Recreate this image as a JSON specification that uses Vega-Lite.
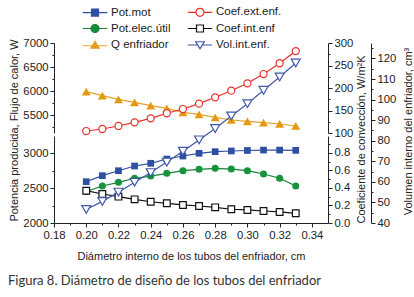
{
  "$schema": "https://vega.github.io/schema/vega-lite/v6.json",
  "width": 274,
  "height": 180,
  "autosize": "none",
  "padding": {"left": 54, "top": 43, "right": 86, "bottom": 74},
  "background": "white",
  "config": {
    "view": {"stroke": null},
    "font": "Liberation Sans",
    "axis": {"grid": false, "domainColor": "#222", "tickColor": "#222", "labelColor": "#222", "titleColor": "#222", "labelFont": "Liberation Sans", "titleFont": "Liberation Sans", "labelFontSize": 11.3, "titleFontSize": 11, "titleFontWeight": "normal", "labelOverlap": false, "labelFlush": false, "labelPadding": 2, "domainWidth": 1, "tickWidth": 1}
  },
  "title": {"text": "Figura 8. Diámetro de diseño de los tubos del enfriador", "orient": "bottom", "anchor": "start", "font": "Lato", "fontSize": 13, "fontWeight": "normal", "color": "#333", "offset": 14},
  "data": {"values": [
    {"s": "Pot.mot", "d": 0.20, "v": 2590}, {"s": "Pot.mot", "d": 0.21, "v": 2676}, {"s": "Pot.mot", "d": 0.22, "v": 2747}, {"s": "Pot.mot", "d": 0.23, "v": 2814}, {"s": "Pot.mot", "d": 0.24, "v": 2853}, {"s": "Pot.mot", "d": 0.25, "v": 2914}, {"s": "Pot.mot", "d": 0.26, "v": 2957}, {"s": "Pot.mot", "d": 0.27, "v": 2996}, {"s": "Pot.mot", "d": 0.28, "v": 3019}, {"s": "Pot.mot", "d": 0.29, "v": 3029}, {"s": "Pot.mot", "d": 0.30, "v": 3036}, {"s": "Pot.mot", "d": 0.31, "v": 3042}, {"s": "Pot.mot", "d": 0.32, "v": 3042}, {"s": "Pot.mot", "d": 0.33, "v": 3038},
    {"s": "Pot.elec.útil", "d": 0.20, "v": 2450}, {"s": "Pot.elec.útil", "d": 0.21, "v": 2529}, {"s": "Pot.elec.útil", "d": 0.22, "v": 2581}, {"s": "Pot.elec.útil", "d": 0.23, "v": 2639}, {"s": "Pot.elec.útil", "d": 0.24, "v": 2671}, {"s": "Pot.elec.útil", "d": 0.25, "v": 2710}, {"s": "Pot.elec.útil", "d": 0.26, "v": 2747}, {"s": "Pot.elec.útil", "d": 0.27, "v": 2767}, {"s": "Pot.elec.útil", "d": 0.28, "v": 2781}, {"s": "Pot.elec.útil", "d": 0.29, "v": 2771}, {"s": "Pot.elec.útil", "d": 0.30, "v": 2747}, {"s": "Pot.elec.útil", "d": 0.31, "v": 2700}, {"s": "Pot.elec.útil", "d": 0.32, "v": 2639}, {"s": "Pot.elec.útil", "d": 0.33, "v": 2529},
    {"s": "Q enfriador", "d": 0.20, "v": 5986}, {"s": "Q enfriador", "d": 0.21, "v": 5903}, {"s": "Q enfriador", "d": 0.22, "v": 5827}, {"s": "Q enfriador", "d": 0.23, "v": 5764}, {"s": "Q enfriador", "d": 0.24, "v": 5694}, {"s": "Q enfriador", "d": 0.25, "v": 5639}, {"s": "Q enfriador", "d": 0.26, "v": 5556}, {"s": "Q enfriador", "d": 0.27, "v": 5514}, {"s": "Q enfriador", "d": 0.28, "v": 5452}, {"s": "Q enfriador", "d": 0.29, "v": 5396}, {"s": "Q enfriador", "d": 0.30, "v": 5368}, {"s": "Q enfriador", "d": 0.31, "v": 5340}, {"s": "Q enfriador", "d": 0.32, "v": 5313}, {"s": "Q enfriador", "d": 0.33, "v": 5271},
    {"s": "Coef.ext.enf.", "d": 0.20, "v": 104.4}, {"s": "Coef.ext.enf.", "d": 0.21, "v": 108.9}, {"s": "Coef.ext.enf.", "d": 0.22, "v": 115.6}, {"s": "Coef.ext.enf.", "d": 0.23, "v": 123.7}, {"s": "Coef.ext.enf.", "d": 0.24, "v": 132.6}, {"s": "Coef.ext.enf.", "d": 0.25, "v": 143.8}, {"s": "Coef.ext.enf.", "d": 0.26, "v": 153.3}, {"s": "Coef.ext.enf.", "d": 0.27, "v": 165.2}, {"s": "Coef.ext.enf.", "d": 0.28, "v": 179.3}, {"s": "Coef.ext.enf.", "d": 0.29, "v": 194}, {"s": "Coef.ext.enf.", "d": 0.30, "v": 210.4}, {"s": "Coef.ext.enf.", "d": 0.31, "v": 231}, {"s": "Coef.ext.enf.", "d": 0.32, "v": 255}, {"s": "Coef.ext.enf.", "d": 0.33, "v": 282},
    {"s": "Coef.int.enf", "d": 0.20, "v": 0.369}, {"s": "Coef.int.enf", "d": 0.21, "v": 0.331}, {"s": "Coef.int.enf", "d": 0.22, "v": 0.301}, {"s": "Coef.int.enf", "d": 0.23, "v": 0.270}, {"s": "Coef.int.enf", "d": 0.24, "v": 0.243}, {"s": "Coef.int.enf", "d": 0.25, "v": 0.225}, {"s": "Coef.int.enf", "d": 0.26, "v": 0.206}, {"s": "Coef.int.enf", "d": 0.27, "v": 0.194}, {"s": "Coef.int.enf", "d": 0.28, "v": 0.179}, {"s": "Coef.int.enf", "d": 0.29, "v": 0.157}, {"s": "Coef.int.enf", "d": 0.30, "v": 0.149}, {"s": "Coef.int.enf", "d": 0.31, "v": 0.137}, {"s": "Coef.int.enf", "d": 0.32, "v": 0.126}, {"s": "Coef.int.enf", "d": 0.33, "v": 0.111},
    {"s": "Vol.int.enf.", "d": 0.20, "v": 46.6}, {"s": "Vol.int.enf.", "d": 0.21, "v": 50.5}, {"s": "Vol.int.enf.", "d": 0.22, "v": 55.0}, {"s": "Vol.int.enf.", "d": 0.23, "v": 59.8}, {"s": "Vol.int.enf.", "d": 0.24, "v": 64.5}, {"s": "Vol.int.enf.", "d": 0.25, "v": 69.6}, {"s": "Vol.int.enf.", "d": 0.26, "v": 74.9}, {"s": "Vol.int.enf.", "d": 0.27, "v": 80.4}, {"s": "Vol.int.enf.", "d": 0.28, "v": 85.9}, {"s": "Vol.int.enf.", "d": 0.29, "v": 92.0}, {"s": "Vol.int.enf.", "d": 0.30, "v": 98.0}, {"s": "Vol.int.enf.", "d": 0.31, "v": 104.5}, {"s": "Vol.int.enf.", "d": 0.32, "v": 111.0}, {"s": "Vol.int.enf.", "d": 0.33, "v": 117.8}
  ]},
  "encoding": {
    "x": {"field": "d", "type": "quantitative", "scale": {"domain": [0.18, 0.35], "nice": false, "zero": false},
      "axis": {"title": "Diámetro interno de los tubos del enfriador, cm", "values": [0.18, 0.19, 0.20, 0.21, 0.22, 0.23, 0.24, 0.25, 0.26, 0.27, 0.28, 0.29, 0.30, 0.31, 0.32, 0.33, 0.34],
        "tickSize": {"condition": {"test": "round(datum.value*100) % 2 === 1", "value": 2}, "value": 4},
        "labelExpr": "round(datum.value*100) % 2 === 1 ? '' : format(datum.value, '.2f')", "titlePadding": 10}}
  },
  "resolve": {"scale": {"y": "independent"}, "axis": {"y": "independent"}},
  "layer": [
    {"data": {"values": [{}]}, "mark": {"type": "rule", "color": "#555", "strokeDash": [1, 2], "strokeWidth": 1},
      "encoding": {"x": {"datum": 0.28, "type": "quantitative"}, "y": {"datum": 40, "type": "quantitative", "scale": {"domain": [40, 127.5], "range": [180, 0], "nice": false, "zero": false}, "axis": null}, "y2": {"datum": 105.5}}},
    {"data": {"values": [{}]}, "mark": {"type": "rule", "color": "#555", "strokeDash": [1, 2], "strokeWidth": 1},
      "encoding": {"x": {"datum": 0.18, "type": "quantitative"}, "x2": {"datum": 0.28}, "y": {"datum": 2772, "type": "quantitative", "scale": {"domain": [2000, 3243], "range": [180, 93], "nice": false, "zero": false}, "axis": null}}},
    {"data": {"values": [{}]}, "mark": {"type": "point", "shape": "M-0.9,0.1L0.9,-0.9M-0.9,0.9L0.9,-0.1", "size": 64, "filled": false, "stroke": "#222", "strokeWidth": 1, "opacity": 1},
      "encoding": {"x": {"datum": 0.18, "type": "quantitative"}, "y": {"datum": 83, "type": "quantitative", "scale": {"domain": [40, 127.5], "range": [180, 0], "nice": false, "zero": false}, "axis": null}}},
    {"data": {"values": [{}]}, "mark": {"type": "point", "shape": "M-0.9,0.1L0.9,-0.9M-0.9,0.9L0.9,-0.1", "size": 64, "filled": false, "stroke": "#222", "strokeWidth": 1, "opacity": 1},
      "encoding": {"x": {"datum": 0.35, "type": "quantitative"}, "y": {"datum": 83, "type": "quantitative", "scale": {"domain": [40, 127.5], "range": [180, 0], "nice": false, "zero": false}, "axis": null}}},
    {"transform": [{"filter": "datum.s === 'Q enfriador'"}],
      "mark": {"type": "line", "color": "#e3a32e", "strokeWidth": 1.2, "point": {"shape": "triangle-up", "size": 80, "filled": true, "color": "#e39a12"}},
      "encoding": {"y": {"field": "v", "type": "quantitative", "scale": {"domain": [5125, 7000], "range": [90, 0], "nice": false, "zero": false},
        "axis": {"orient": "left", "values": [5250, 5500, 5750, 6000, 6250, 6500, 6750, 7000], "labelExpr": "datum.value % 500 === 0 ? format(datum.value, 'd') : ''",
          "tickSize": {"condition": {"test": "datum.value % 500 !== 0", "value": 2}, "value": 4},
          "title": "Potencia producida, Flujo de calor, W", "titleX": -35, "titleY": 87, "titleAngle": -90, "titleBaseline": "bottom"}}}},
    {"transform": [{"filter": "datum.s === 'Coef.ext.enf.'"}],
      "mark": {"type": "line", "color": "#e8302a", "strokeWidth": 1.2, "point": {"shape": "circle", "size": 50, "filled": true, "fill": "white", "stroke": "#e8302a", "strokeWidth": 1.2}},
      "encoding": {"y": {"field": "v", "type": "quantitative", "scale": {"domain": [100, 300], "range": [90, 0], "nice": false, "zero": false},
        "axis": {"orient": "right", "values": [100, 125, 150, 175, 200, 225, 250, 275, 300], "labelExpr": "datum.value % 50 === 0 ? format(datum.value, 'd') : ''",
          "tickSize": {"condition": {"test": "datum.value % 50 !== 0", "value": 2}, "value": 4},
          "title": "Coeficiente de convección, W/m²K", "titleX": 38, "titleY": 96, "titleAngle": -90, "titleBaseline": "bottom"}}}},
    {"transform": [{"filter": "datum.s === 'Pot.mot'"}],
      "mark": {"type": "line", "color": "#2f4fa2", "strokeWidth": 1.2, "point": {"shape": "square", "size": 45, "filled": true, "color": "#2f4fa2"}},
      "encoding": {"y": {"field": "v", "type": "quantitative", "scale": {"domain": [2000, 3243], "range": [180, 93], "nice": false, "zero": false},
        "axis": {"orient": "left", "values": [2000, 2250, 2500, 2750, 3000], "labelExpr": "datum.value % 500 === 0 ? format(datum.value, 'd') : ''",
          "tickSize": {"condition": {"test": "datum.value % 500 !== 0", "value": 2}, "value": 4}, "title": null}}}},
    {"transform": [{"filter": "datum.s === 'Pot.elec.útil'"}],
      "mark": {"type": "line", "color": "#1a7f37", "strokeWidth": 1.2, "point": {"shape": "circle", "size": 50, "filled": true, "color": "#17933c"}},
      "encoding": {"y": {"field": "v", "type": "quantitative", "scale": {"domain": [2000, 3243], "range": [180, 93], "nice": false, "zero": false}, "axis": null}}},
    {"transform": [{"filter": "datum.s === 'Coef.int.enf'"}],
      "mark": {"type": "line", "color": "#111", "strokeWidth": 1.2, "point": {"shape": "square", "size": 45, "filled": true, "fill": "white", "stroke": "#111", "strokeWidth": 1.2}},
      "encoding": {"y": {"field": "v", "type": "quantitative", "scale": {"domain": [0, 0.994], "range": [180, 93], "nice": false, "zero": false},
        "axis": {"orient": "right", "values": [0, 0.1, 0.2, 0.3, 0.4, 0.5, 0.6, 0.7, 0.8, 0.9], "labelExpr": "round(datum.value*10) % 2 === 1 ? '' : format(datum.value, '.1f')",
          "tickSize": {"condition": {"test": "round(datum.value*10) % 2 === 1", "value": 2}, "value": 4}, "title": null}}}},
    {"transform": [{"filter": "datum.s === 'Vol.int.enf.'"}],
      "mark": {"type": "line", "color": "#4058a8", "strokeWidth": 1.2, "point": {"shape": "triangle-down", "size": 80, "filled": true, "fill": "white", "stroke": "#4058a8", "strokeWidth": 1.2}},
      "encoding": {"y": {"field": "v", "type": "quantitative", "scale": {"domain": [40, 127.5], "range": [180, 0], "nice": false, "zero": false},
        "axis": {"orient": "right", "offset": 43, "values": [40, 45, 50, 55, 60, 65, 70, 75, 80, 85, 90, 95, 100, 105, 110, 115, 120, 125], "labelExpr": "datum.value % 10 === 0 ? format(datum.value, 'd') : ''",
          "tickSize": {"condition": {"test": "datum.value % 10 !== 0", "value": 2}, "value": 4},
          "title": "Volumen interno del enfriador, cm³", "titleX": 42, "titleY": 88, "titleAngle": -90, "titleBaseline": "bottom"}}}},
    {"mark": {"type": "point", "opacity": 0},
      "encoding": {
        "y": {"field": "v", "type": "quantitative", "axis": null},
        "shape": {"field": "s", "type": "nominal",
          "scale": {"domain": ["Pot.mot", "Pot.elec.útil", "Q enfriador", "Coef.ext.enf.", "Coef.int.enf", "Vol.int.enf."],
            "range": ["M-2.45,0H2.45M-0.7,-0.7H0.7V0.7H-0.7Z", "M-2.45,0H2.45M0.8,0A0.8,0.8,0,1,1,-0.8,0A0.8,0.8,0,1,1,0.8,0Z", "M-2.45,0.15H2.45M0,-0.75L0.85,0.65H-0.85Z", "M-2.45,0H-0.8M0.8,0H2.45M0.8,0A0.8,0.8,0,1,1,-0.8,0A0.8,0.8,0,1,1,0.8,0Z", "M-2.45,0H-0.7M0.7,0H2.45M-0.7,-0.7H0.7V0.7H-0.7Z", "M-2.45,0H-0.45M0.45,0H2.45M-0.85,-0.65H0.85L0,0.75Z"]},
          "legend": {"title": null, "orient": "none", "legendX": 35, "legendY": -37, "columns": 2, "padding": 0, "symbolSize": 100, "symbolStrokeWidth": 1.2, "symbolOpacity": 1, "labelFont": "Liberation Sans", "labelFontSize": 11.5, "labelColor": "#222", "labelOffset": 10, "rowPadding": 2.5, "columnPadding": 14}},
        "stroke": {"field": "s", "type": "nominal",
          "scale": {"domain": ["Pot.mot", "Pot.elec.útil", "Q enfriador", "Coef.ext.enf.", "Coef.int.enf", "Vol.int.enf."],
            "range": ["#2f4fa2", "#1a7f37", "#e3a32e", "#e8302a", "#111111", "#4058a8"]},
          "legend": {"title": null, "orient": "none", "legendX": 35, "legendY": -37, "columns": 2, "padding": 0, "symbolSize": 100, "symbolStrokeWidth": 1.2, "symbolOpacity": 1, "labelFont": "Liberation Sans", "labelFontSize": 11.5, "labelColor": "#222", "labelOffset": 10, "rowPadding": 2.5, "columnPadding": 14}},
        "fill": {"field": "s", "type": "nominal",
          "scale": {"domain": ["Pot.mot", "Pot.elec.útil", "Q enfriador", "Coef.ext.enf.", "Coef.int.enf", "Vol.int.enf."],
            "range": ["#2f4fa2", "#17933c", "#e39a12", "#ffffff", "#ffffff", "#ffffff"]},
          "legend": {"title": null, "orient": "none", "legendX": 35, "legendY": -37, "columns": 2, "padding": 0, "symbolSize": 100, "symbolStrokeWidth": 1.2, "symbolOpacity": 1, "labelFont": "Liberation Sans", "labelFontSize": 11.5, "labelColor": "#222", "labelOffset": 10, "rowPadding": 2.5, "columnPadding": 14}}
      }}
  ]
}
